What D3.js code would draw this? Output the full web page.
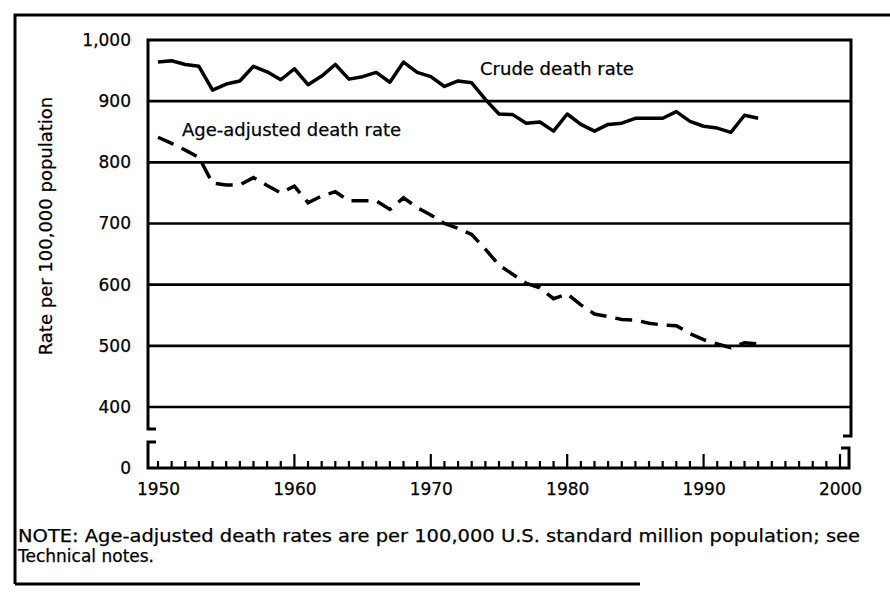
<!DOCTYPE html>
<html>
<head>
<meta charset="utf-8">
<script src="https://cdn.jsdelivr.net/npm/d3@7"></script>
<style>
  body { margin: 0; background: #fff; }
  svg text { font-family: "DejaVu Sans", sans-serif; fill: #000; stroke: #000; stroke-width: 0.25px; }
</style>
</head>
<body>
<div id="chart"></div>
<script>
const years = [1950, 1951, 1952, 1953, 1954, 1955, 1956, 1957, 1958, 1959,
  1960, 1961, 1962, 1963, 1964, 1965, 1966, 1967, 1968, 1969,
  1970, 1971, 1972, 1973, 1974, 1975, 1976, 1977, 1978, 1979,
  1980, 1981, 1982, 1983, 1984, 1985, 1986, 1987, 1988, 1989,
  1990, 1991, 1992, 1993, 1994];
const crudeRate = [964, 966, 960, 957, 918, 928, 933, 957, 948, 935,
  953, 927, 941, 960, 936, 940, 947, 931, 964, 947,
  940, 924, 933, 930, 903, 879, 878, 864, 866, 851,
  879, 862, 851, 862, 864, 872, 872, 872, 883, 867,
  859, 856, 849, 877, 872];
const ageAdjustedRate = [841, 831, 820, 808, 766, 763, 763, 775, 762, 750,
  761, 734, 745, 752, 737, 737, 737, 723, 742, 726,
  714, 700, 692, 682, 658, 632, 617, 602, 595, 577,
  585, 567, 552, 548, 543, 542, 537, 534, 533, 520,
  510, 503, 497, 505, 503];
const rateTicks = [400, 500, 600, 700, 800, 900, 1000];
const yearTicks = [1950, 1960, 1970, 1980, 1990, 2000];
const seriesLabels = ["Crude death rate", "Age-adjusted death rate"];
const yTitle = "Rate per 100,000 population";
const noteLines = [
  "NOTE: Age-adjusted death rates are per 100,000 U.S. standard million population; see",
  "Technical notes."
];

const width = 890, height = 595;
const left = 148, right = 851;   // plot frame
const baseY = 468;               // the broken-off zero line

const svg = d3.select("#chart")
  .append("svg")
  .attr("width", width)
  .attr("height", height);

const x = d3.scaleLinear().domain([1950, 2000]).range([158, 840]);
const y = d3.scaleLinear().domain([400, 1000]).range([407, 40]);
const yZero = d3.scaleLinear().domain([0, 100]).range([baseY, 407]);

// page frame of the scanned figure
svg.append("path")
  .attr("d", `M15,584 V15 H${width}`)
  .attr("fill", "none").attr("stroke", "#000").attr("stroke-width", 3);
svg.append("line")
  .attr("x1", 15).attr("x2", 640).attr("y1", 584).attr("y2", 584)
  .attr("stroke", "#000").attr("stroke-width", 3);

// gridlines
svg.append("g")
  .selectAll("line")
  .data(rateTicks.filter(d => d < 1000))
  .join("line")
  .attr("x1", left).attr("x2", right)
  .attr("y1", d => y(d)).attr("y2", d => y(d))
  .attr("stroke", "#000").attr("stroke-width", 2.6);

// upper frame with the break hooks
svg.append("path")
  .attr("d", `M${left + 8},${y(400) + 22} H${left} V${y(1000)} H${right} V${y(400) + 29} H${right - 8}`)
  .attr("fill", "none").attr("stroke", "#000").attr("stroke-width", 3);

// lower part: zero line with hooks
svg.append("path")
  .attr("d", `M${left + 8},${baseY - 26} H${left} V${baseY} H${right - 2} V${baseY - 20} H${right - 10}`)
  .attr("fill", "none").attr("stroke", "#000").attr("stroke-width", 3);

// year ticks on the zero line
svg.append("g")
  .selectAll("line")
  .data(x.ticks(50))
  .join("line")
  .attr("x1", d => x(d)).attr("x2", d => x(d))
  .attr("y1", baseY)
  .attr("y2", d => (d % 10 === 0 && d > 1950 ? baseY - 14 : baseY - 7))
  .attr("stroke", "#000").attr("stroke-width", 2.2);

// axes (labels only)
const yAxis = svg.append("g")
  .attr("transform", `translate(${left},0)`)
  .call(d3.axisLeft(y).tickValues(rateTicks).tickFormat(d3.format(",")).tickSize(0).tickPadding(17));
const zeroAxis = svg.append("g")
  .attr("transform", `translate(${left},0)`)
  .call(d3.axisLeft(yZero).tickValues([0]).tickSize(0).tickPadding(17));
const xAxis = svg.append("g")
  .attr("transform", `translate(0,${baseY})`)
  .call(d3.axisBottom(x).tickValues(yearTicks).tickFormat(d3.format("d")).tickSize(0).tickPadding(15));

[yAxis, zeroAxis, xAxis].forEach(g => {
  g.select(".domain").remove();
  g.selectAll("text")
    .style("font-family", "'DejaVu Sans', sans-serif")
    .style("font-size", "17px")
    .attr("fill", "#000");
});

svg.append("text")
  .attr("transform", "translate(52,226) rotate(-90)")
  .attr("text-anchor", "middle")
  .style("font-size", "18px")
  .text(yTitle);

// series
const line = d3.line()
  .x(d => x(d[0]))
  .y(d => y(d[1]));

svg.append("path")
  .datum(d3.zip(years, crudeRate))
  .attr("d", line)
  .attr("fill", "none").attr("stroke", "#000")
  .attr("stroke-width", 3.5).attr("stroke-linejoin", "round");

svg.append("path")
  .datum(d3.zip(years, ageAdjustedRate))
  .attr("d", line)
  .attr("fill", "none").attr("stroke", "#000")
  .attr("stroke-width", 3.5).attr("stroke-dasharray", "17,9");

svg.append("text")
  .attr("x", 480).attr("y", 75)
  .style("font-size", "18px")
  .text(seriesLabels[0]);
svg.append("text")
  .attr("x", 182).attr("y", 136)
  .style("font-size", "18px")
  .text(seriesLabels[1]);

// note
svg.selectAll(".note")
  .data(noteLines)
  .join("text")
  .attr("class", "note")
  .attr("x", 18)
  .attr("y", (d, i) => 542 + i * 20)
  .style("font-size", "17px")
  .attr("textLength", (d, i) => (i === 0 ? 842 : null))
  .attr("lengthAdjust", "spacingAndGlyphs")
  .text(d => d);
</script>
</body>
</html>
